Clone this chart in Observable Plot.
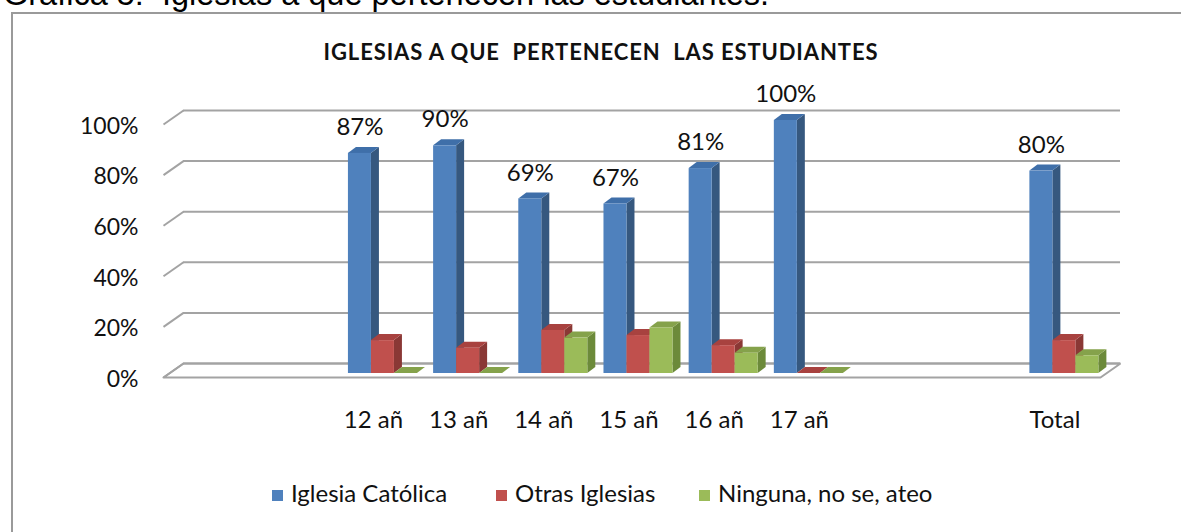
<!DOCTYPE html>
<html><head><meta charset="utf-8">
<script src="https://cdn.jsdelivr.net/npm/d3@7"></script>
<script src="https://cdn.jsdelivr.net/npm/@observablehq/plot@0.6"></script>
<style>
html,body{margin:0;padding:0;background:#fff;}
body{width:1181px;height:532px;overflow:hidden;position:relative;font-family:Lato,sans-serif;}
#caption{position:absolute;left:3px;top:-22px;font:32.5px/1 "Liberation Sans",Arial,sans-serif;white-space:pre;color:#000;}
#frame{position:absolute;left:11px;top:12px;width:1200px;height:560px;border:2px solid #9a9a9a;box-sizing:border-box;}
#title{position:absolute;left:0;width:1202px;top:38px;text-align:center;font:bold 22px Lato,sans-serif;letter-spacing:0.9px;white-space:pre;color:#111;}
#chart{position:absolute;left:0;top:60px;}
#legend{position:absolute;top:478px;left:0;width:1181px;height:32px;font:24px Lato,sans-serif;color:#111;}
#legend span.item{position:absolute;top:0;white-space:pre;}
#legend span.sw{display:inline-block;width:11px;height:11px;margin-right:8px;vertical-align:1px;}
</style></head>
<body>
<div id="caption">Gráfica 5:  Iglesias a que pertenecen las estudiantes.</div>
<div id="frame"></div>
<div id="title">IGLESIAS A QUE  PERTENECEN  LAS ESTUDIANTES</div>
<div id="chart"></div>
<div id="legend"></div>
<script>
// ---- data ----
const categories = ["", " ", "12 añ", "13 añ", "14 añ", "15 añ", "16 añ", "17 añ", "  ", "   ", "Total"];
const seriesNames = ["Iglesia Católica", "Otras Iglesias", "Ninguna, no se, ateo"];
const catolica = [null, null, 87, 90, 69, 67, 81, 100, null, null, 80];
const otras    = [null, null, 13, 10, 17, 15, 11, 0, null, null, 13];
const ninguna  = [null, null, 0, 0, 14, 18, 8, 0, null, null, 7];
const yTicks = [0, 20, 40, 60, 80, 100];
const labelledSeries = [true, false, false];

// ---- style ----
const faceColors  = ["#4F81BD", "#C0504D", "#9BBB59"];
const sideColors  = ["#36587F", "#8A3835", "#6C8A3A"];
const topColors   = ["#3F6FA9", "#A8423F", "#85A24B"];
const gridColor = "#a3a3a3";

// geometry helpers (pixels -> data units)
const xRange = [163, 1100], yRange = [317, 64];
const pxX = (xRange[1] - xRange[0]) / categories.length;
const pxY = (yRange[0] - yRange[1]) / 100;
const wallDX = 20 / pxX, wallDY = 14 / pxY;
const barDX = 8 / pxX, barDY = 6 / pxY;
const barStart = [0.171, 0.441, 0.711], barWidth = 0.27;

const allSeries = [catolica, otras, ninguna];
const marks = [];

// back-wall gridlines and left diagonals
marks.push(Plot.ruleY(yTicks, {x1: 0, x2: categories.length, dx: 20, dy: -14, stroke: gridColor, strokeWidth: 2}));
marks.push(Plot.link(yTicks, {x1: 0, y1: d => d, x2: wallDX, y2: d => d + wallDY, stroke: gridColor, strokeWidth: 2}));
// floor outline
const floor = [[0, 0], [categories.length, 0], [categories.length + wallDX, wallDY], [wallDX, wallDY], [0, 0]];
marks.push(Plot.line(floor, {x: d => d[0], y: d => d[1], stroke: gridColor, strokeWidth: 2, strokeLinejoin: "miter"}));

// bars (3D)
allSeries.forEach((vals, s) => {
  const bars = [];
  vals.forEach((v, i) => { if (v != null) bars.push({i, v, x1: i + barStart[s], x2: i + barStart[s] + barWidth}); });
  const side = [], top = [];
  bars.forEach(b => {
    side.push({id: b.i, x: b.x2, y1: 0, y2: b.v});
    side.push({id: b.i, x: b.x2 + barDX, y1: barDY, y2: b.v + barDY});
    top.push({id: b.i, x: b.x1, y1: b.v, y2: b.v});
    top.push({id: b.i, x: b.x1 + barDX, y1: b.v, y2: b.v + barDY});
    top.push({id: b.i, x: b.x2, y1: b.v, y2: b.v + barDY});
    top.push({id: b.i, x: b.x2 + barDX, y1: b.v + barDY, y2: b.v + barDY});
  });
  marks.push(Plot.area(side, {x1: "x", y1: "y1", y2: "y2", z: "id", fill: sideColors[s], dy: -4, curve: "linear"}));
  marks.push(Plot.area(top, {x1: "x", y1: "y1", y2: "y2", z: "id", fill: topColors[s], dy: -4, curve: "linear"}));
  marks.push(Plot.rect(bars, {x1: "x1", x2: "x2", y1: () => 0, y2: "v", fill: faceColors[s], dy: -4}));
  if (labelledSeries[s]) {
    marks.push(Plot.text(bars, {x: d => (d.x1 + d.x2) / 2, y: "v", text: d => d.v + "%", dy: -30, fontSize: 24, fill: "#111", lineAnchor: "middle"}));
  }
});

// y tick labels
marks.push(Plot.text(yTicks, {x: () => 0, y: d => d, text: d => d + "%", dx: -25, dy: 2, textAnchor: "end", fontSize: 23, fill: "#111", lineAnchor: "middle"}));
// category labels
marks.push(Plot.text(categories.map((c, i) => ({c, i})), {x: d => d.i + 0.5, y: () => 0, text: "c", dx: -3, dy: 43, fontSize: 24, fill: "#111", lineAnchor: "middle"}));

const chart = Plot.plot({
  width: 1181, height: 380,
  marginLeft: 0, marginRight: 0, marginTop: 0, marginBottom: 0,
  x: {type: "linear", domain: [0, categories.length], range: xRange, axis: null},
  y: {type: "linear", domain: [0, 100], range: yRange, axis: null},
  style: {fontFamily: "Lato, sans-serif", background: "transparent", overflow: "visible"},
  marks
});
document.getElementById("chart").appendChild(chart);

// legend
const legendX = [272, 496, 699];
const lg = document.getElementById("legend");
seriesNames.forEach((n, s) => {
  const it = document.createElement("span");
  it.className = "item";
  it.style.left = legendX[s] + "px";
  it.innerHTML = `<span class="sw" style="background:${faceColors[s]}"></span>${n}`;
  lg.appendChild(it);
});
</script>
</body></html>
